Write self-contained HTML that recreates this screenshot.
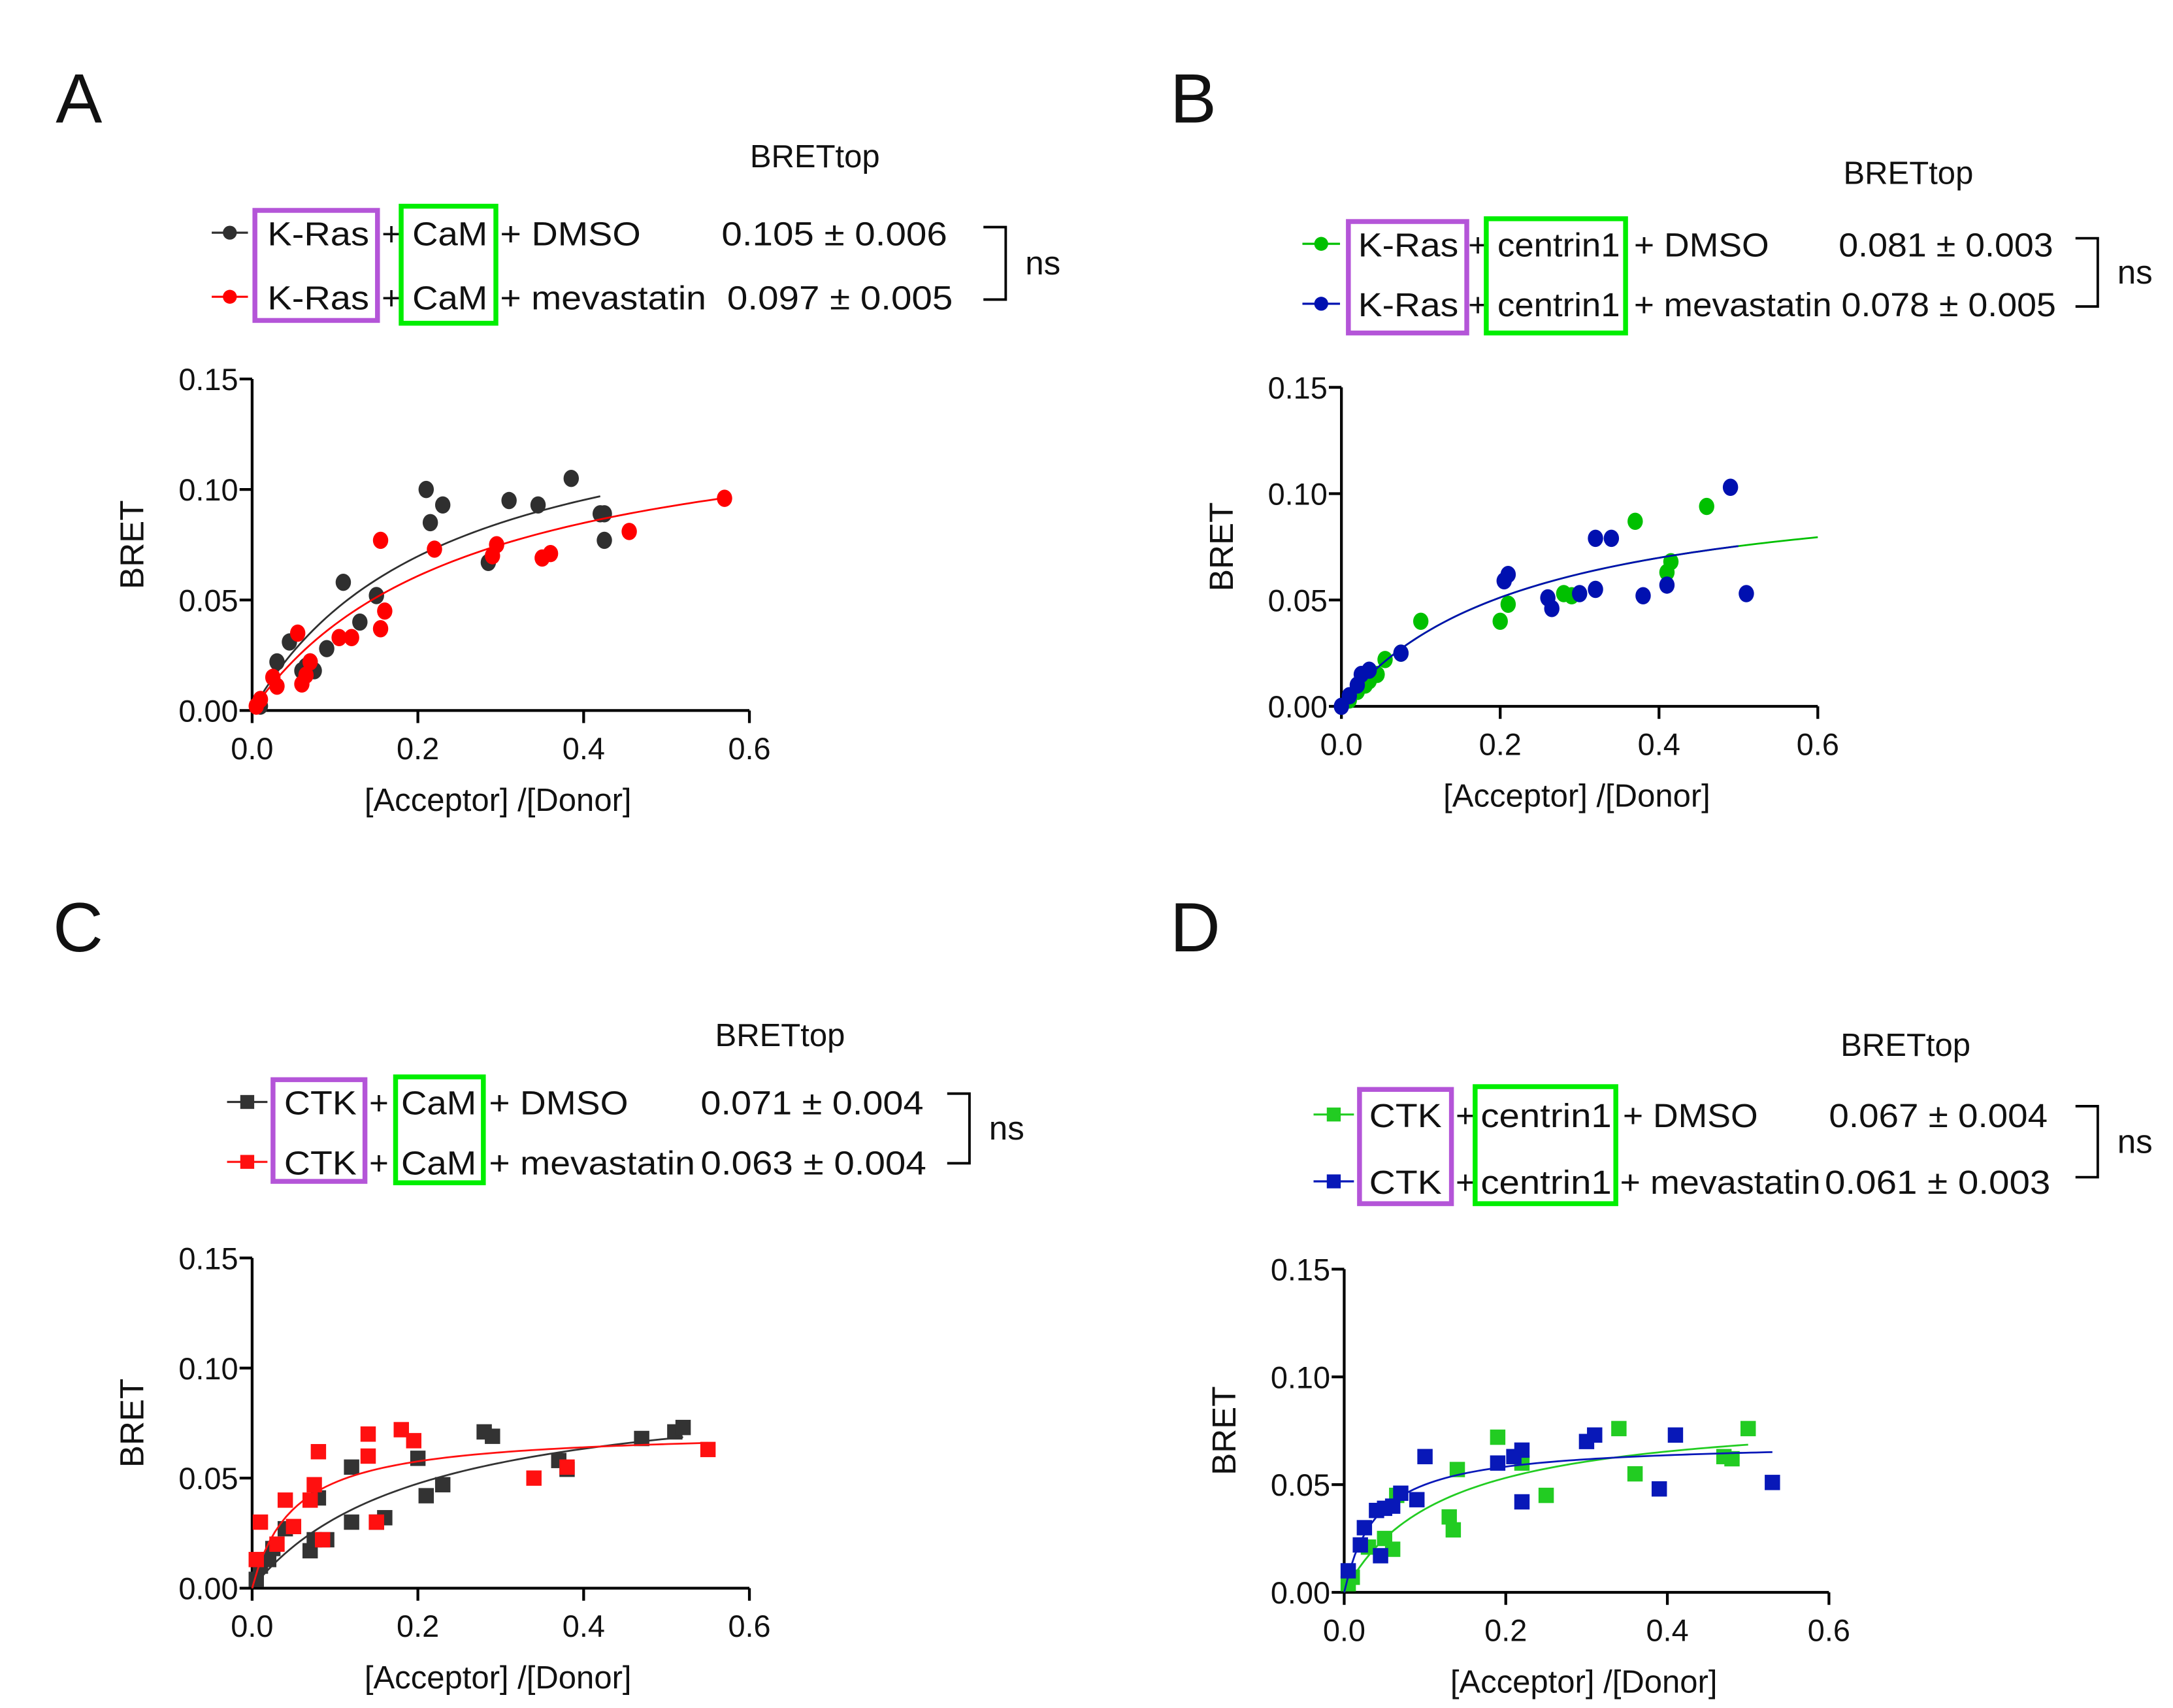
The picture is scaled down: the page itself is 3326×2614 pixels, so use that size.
<!DOCTYPE html>
<html><head><meta charset="utf-8"><style>
html,body{margin:0;padding:0;background:#fff}
svg{display:block}
text{font-family:"Liberation Sans",sans-serif;fill:#111}
</style></head><body>
<svg id="fig" width="3326" height="2614" viewBox="0 0 1560 1226" xmlns="http://www.w3.org/2000/svg"></svg>
<script>
// ---- data ----
const xTicks = [0.0, 0.2, 0.4, 0.6];
const xTickLabels = ["0.0", "0.2", "0.4", "0.6"];
const yTicks = [0.00, 0.05, 0.10, 0.15];
const yTickLabels = ["0.00", "0.05", "0.10", "0.15"];

const aDmsoX = [0.01,0.03,0.045,0.06,0.065,0.07,0.075,0.09,0.11,0.13,0.15,0.21,0.215,0.23,0.285,0.31,0.345,0.385,0.42,0.425,0.425];
const aDmsoY = [0.002,0.022,0.031,0.018,0.02,0.022,0.018,0.028,0.058,0.04,0.052,0.1,0.085,0.093,0.067,0.095,0.093,0.105,0.089,0.089,0.077];
const aMevX = [0.005,0.01,0.025,0.03,0.055,0.06,0.065,0.07,0.105,0.12,0.155,0.155,0.16,0.22,0.29,0.295,0.35,0.36,0.455,0.57];
const aMevY = [0.002,0.005,0.015,0.011,0.035,0.012,0.016,0.022,0.033,0.033,0.037,0.077,0.045,0.073,0.07,0.075,0.069,0.071,0.081,0.096];
const aFitBmax = [0.15, 0.14];
const aFitKd = [0.23, 0.26];
const aFitXmax = [0.42, 0.57];

const bDmsoX = [0.01,0.02,0.03,0.035,0.045,0.055,0.075,0.1,0.2,0.21,0.28,0.29,0.37,0.41,0.415,0.46];
const bDmsoY = [0.003,0.007,0.01,0.012,0.015,0.022,0.025,0.04,0.04,0.048,0.053,0.052,0.087,0.063,0.068,0.094];
const bMevX = [0.0,0.01,0.02,0.025,0.035,0.075,0.205,0.21,0.26,0.265,0.3,0.32,0.32,0.34,0.38,0.41,0.49,0.51];
const bMevY = [0.0,0.005,0.01,0.015,0.017,0.025,0.059,0.062,0.051,0.046,0.053,0.055,0.079,0.079,0.052,0.057,0.103,0.053];
const bFitBmax = [0.11, 0.11];
const bFitKd = [0.23, 0.23];
const bFitXmax = [0.6, 0.5];

const cDmsoX = [0.005,0.01,0.02,0.025,0.04,0.07,0.075,0.08,0.09,0.12,0.12,0.15,0.16,0.2,0.21,0.23,0.28,0.29,0.37,0.38,0.47,0.51,0.52];
const cDmsoY = [0.004,0.01,0.013,0.018,0.027,0.017,0.022,0.041,0.022,0.03,0.055,0.03,0.032,0.059,0.042,0.047,0.071,0.069,0.058,0.054,0.068,0.071,0.073];
const cMevX = [0.005,0.01,0.03,0.04,0.05,0.07,0.075,0.08,0.085,0.14,0.14,0.15,0.18,0.195,0.34,0.38,0.55];
const cMevY = [0.013,0.03,0.02,0.04,0.028,0.04,0.047,0.062,0.022,0.06,0.07,0.03,0.072,0.067,0.05,0.055,0.063];
const cFitBmax = [0.095, 0.072];
const cFitKd = [0.2, 0.05];
const cFitXmax = [0.52, 0.55];

const dDmsoX = [0.005,0.01,0.03,0.05,0.06,0.065,0.13,0.135,0.14,0.19,0.22,0.25,0.34,0.36,0.47,0.48,0.5];
const dDmsoY = [0.004,0.007,0.021,0.025,0.02,0.045,0.035,0.029,0.057,0.072,0.06,0.045,0.076,0.055,0.063,0.062,0.076];
const dMevX = [0.005,0.02,0.025,0.04,0.045,0.05,0.06,0.07,0.09,0.1,0.19,0.21,0.22,0.22,0.3,0.31,0.39,0.41,0.53];
const dMevY = [0.01,0.022,0.03,0.038,0.017,0.039,0.04,0.046,0.043,0.063,0.06,0.063,0.042,0.066,0.07,0.073,0.048,0.073,0.051];
const dFitBmax = [0.085, 0.07];
const dFitKd = [0.12, 0.04];
const dFitXmax = [0.5, 0.53];

// ---- drawing ----
const NS = "http://www.w3.org/2000/svg";
const svg = document.getElementById('fig');
function mk(tag, attrs, parent, txt){
  const e = document.createElementNS(NS, tag);
  for (const k in attrs) e.setAttribute(k, attrs[k]);
  if (txt !== undefined) e.textContent = txt;
  (parent || svg).appendChild(e);
  return e;
}

function panel(p){
  const g = mk('g', {});
  
  
  const sx = v => p.x0 + (v / 0.6) * (p.x1 - p.x0);
  const sy = v => p.y0 - (v / 0.15) * (p.y0 - p.y1);

  const lt = mk('text', {x:p.lx, y:p.ly, 'font-size':50}, g, p.id);
  
  

  const ax = mk('g', {stroke:'#000','stroke-width':2, fill:'none'}, g);
  
  
  mk('line', {x1:p.x0, y1:p.y0, x2:p.x1, y2:p.y0}, ax);
  mk('line', {x1:p.x0, y1:p.y0, x2:p.x0, y2:p.y1}, ax);
  xTicks.forEach((t,i)=>{
    mk('line', {x1:sx(t), y1:p.y0, x2:sx(t), y2:p.y0+9}, ax);
    const tl = mk('text', {x:sx(t), y:p.y0+35, 'font-size':22, 'text-anchor':'middle', stroke:'none'}, g, xTickLabels[i]);
    
    
  });
  yTicks.forEach((t,i)=>{
    mk('line', {x1:p.x0-9, y1:sy(t), x2:p.x0, y2:sy(t)}, ax);
    const tl = mk('text', {x:p.x0-10, y:sy(t)+8, 'font-size':22, 'text-anchor':'end'}, g, yTickLabels[i]);
    
    
  });
  const xt = mk('text', {x:(p.x0+p.x1)/2 - 2, y:p.y0+72, 'font-size':23, 'text-anchor':'middle'}, g, '[Acceptor] /[Donor]');
  
  
  const cy = (p.y0+p.y1)/2;
  const yt = mk('text', {x:p.x0-78, y:cy, 'font-size':24, 'text-anchor':'middle', transform:`rotate(-90 ${p.x0-78} ${cy})`}, g, 'BRET');
  
  

  p.series.forEach((s, si)=>{
    const sg = mk('g', {fill:s.color}, g);
    
    
    let d = '';
    const n = 80;
    for (let k=0;k<=n;k++){
      const xv = p.fitXmax[si]*k/n;
      const yv = p.fitBmax[si]*xv/(p.fitKd[si]+xv);
      d += (k?'L':'M') + sx(xv).toFixed(2) + ' ' + sy(yv).toFixed(2);
    }
    const fc = mk('path', {d:d, fill:'none', stroke:s.color, 'stroke-width':1.3}, sg);
    
    
    s.xs.forEach((xv, k)=>{
      let m;
      if (p.square) m = mk('rect', {x:sx(xv)-5.5, y:sy(s.ys[k])-5.5, width:11, height:11}, sg);
      else m = mk('ellipse', {cx:sx(xv), cy:sy(s.ys[k]), rx:5.5, ry:6.2}, sg);
      
      
    });
  });

  const lg = mk('g', {}, g);
  
  
  const tt = mk('text', {x:p.titleX, y:p.titleY, 'font-size':23, 'text-anchor':'middle'}, lg, 'BRETtop');
  
  
  p.rows.forEach((r, ri)=>{
    const s = p.series[ri];
    const le = mk('g', {}, lg);
    
    
    mk('line', {x1:p.mk0, y1:r.y, x2:p.mk1, y2:r.y, stroke:s.color, 'stroke-width':1.5}, le);
    const mc = (p.mk0+p.mk1)/2;
    if (p.square) mk('rect', {x:mc-5, y:r.y-5, width:10, height:10, fill:s.color}, le);
    else mk('circle', {cx:mc, cy:r.y, r:5, fill:s.color}, le);
    r.parts.forEach(pt=>{
      const a = {x:pt[0], y:r.y+9, 'font-size':24};
      if (pt[2]) { a.textLength = pt[2]; a.lengthAdjust = 'spacingAndGlyphs'; }
      mk('text', a, le, pt[1]);
    });
  });
  mk('rect', {x:p.pb[0], y:p.pb[1], width:p.pb[2], height:p.pb[3], fill:'none', stroke:'#b455d8', 'stroke-width':3.5}, lg);
  mk('rect', {x:p.gb[0], y:p.gb[1], width:p.gb[2], height:p.gb[3], fill:'none', stroke:'#00ee00', 'stroke-width':3.5}, lg);
  const br = mk('path', {d:`M${p.br[0]} ${p.br[1]}H${p.br[0]+16}V${p.br[2]}H${p.br[0]}`, fill:'none', stroke:'#000', 'stroke-width':1.8}, lg);
  
  
  mk('text', {x:p.br[0]+30, y:(p.br[1]+p.br[2])/2+8, 'font-size':24}, lg, 'ns');
}

panel({id:'A', lx:40, ly:88, x0:181, x1:538, y0:510, y1:272, square:false,
  fitBmax:aFitBmax, fitKd:aFitKd, fitXmax:aFitXmax,
  series:[{name:'kras-cam-dmso', color:'#2f2f2f', xs:aDmsoX, ys:aDmsoY},{name:'kras-cam-mevastatin', color:'#ff0000', xs:aMevX, ys:aMevY}],
  titleX:585, titleY:120, mk0:152, mk1:178,
  rows:[{y:167, parts:[[192,'K-Ras',73],[274,'+'],[296,'CaM',54],[359,'+ DMSO',101],[518,'0.105 ± 0.006',162]]},
        {y:213, parts:[[192,'K-Ras',73],[274,'+'],[296,'CaM',54],[359,'+ mevastatin',148],[522,'0.097 ± 0.005',162]]}],
  pb:[183,151,88,79], gb:[288,148,68,84], br:[706,163,215]});

panel({id:'B', lx:840, ly:88, x0:963, x1:1305, y0:507, y1:278, square:false,
  fitBmax:bFitBmax, fitKd:bFitKd, fitXmax:bFitXmax,
  series:[{name:'kras-centrin1-dmso', color:'#00c000', xs:bDmsoX, ys:bDmsoY},{name:'kras-centrin1-mevastatin', color:'#0010b0', xs:bMevX, ys:bMevY}],
  titleX:1370, titleY:132, mk0:935, mk1:962,
  rows:[{y:175, parts:[[975,'K-Ras',72],[1054,'+'],[1075,'centrin1',88],[1173,'+ DMSO',97],[1320,'0.081 ± 0.003',154]]},
        {y:218, parts:[[975,'K-Ras',72],[1054,'+'],[1075,'centrin1',88],[1173,'+ mevastatin',142],[1322,'0.078 ± 0.005',154]]}],
  pb:[968,159,85,80], gb:[1067,157,100,82], br:[1490,171,220]});

panel({id:'C', lx:38, ly:683, x0:181, x1:538, y0:1140, y1:903, square:true,
  fitBmax:cFitBmax, fitKd:cFitKd, fitXmax:cFitXmax,
  series:[{name:'ctk-cam-dmso', color:'#333333', xs:cDmsoX, ys:cDmsoY},{name:'ctk-cam-mevastatin', color:'#ff1010', xs:cMevX, ys:cMevY}],
  titleX:560, titleY:751, mk0:163, mk1:192,
  rows:[{y:791, parts:[[204,'CTK',52],[265,'+'],[288,'CaM',54],[351,'+ DMSO',100],[503,'0.071 ± 0.004',160]]},
        {y:834, parts:[[204,'CTK',52],[265,'+'],[288,'CaM',54],[351,'+ mevastatin',148],[503,'0.063 ± 0.004',162]]}],
  pb:[196,775,66,73], gb:[284,773,63,76], br:[680,785,835]});

panel({id:'D', lx:840, ly:683, x0:965, x1:1313, y0:1143, y1:911, square:true,
  fitBmax:dFitBmax, fitKd:dFitKd, fitXmax:dFitXmax,
  series:[{name:'ctk-centrin1-dmso', color:'#22cc22', xs:dDmsoX, ys:dDmsoY},{name:'ctk-centrin1-mevastatin', color:'#0818b8', xs:dMevX, ys:dMevY}],
  titleX:1368, titleY:758, mk0:943, mk1:972,
  rows:[{y:800, parts:[[983,'CTK',52],[1045,'+'],[1063,'centrin1',94],[1165,'+ DMSO',97],[1313,'0.067 ± 0.004',157]]},
        {y:848, parts:[[983,'CTK',52],[1045,'+'],[1063,'centrin1',94],[1163,'+ mevastatin',144],[1310,'0.061 ± 0.003',162]]}],
  pb:[976,782,66,82], gb:[1059,780,101,84], br:[1490,794,845]});
</script>
</body></html>
